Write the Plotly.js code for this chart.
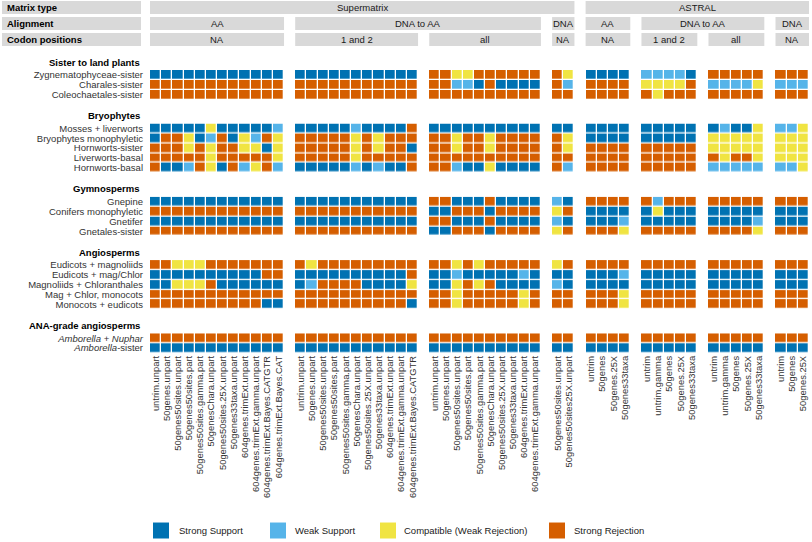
<!DOCTYPE html>
<html><head><meta charset="utf-8">
<script src="https://cdn.plot.ly/plotly-3.0.1.min.js"></script>
<style>html,body{margin:0;padding:0;background:#fff}#chart{width:812px;height:542px}</style>
</head><body><div id="chart"></div>
<script>
// ---- column labels, one array per column group ----
const saAA = ["untrim.unpart","50genes.unpart","50genes50sites.unpart","50genes50sites.part","50genes50sites.gamma.part","50genesChara.unpart","50genes50sites.25X.unpart","50genes33taxa.unpart","604genes.trimExt.unpart","604genes.trimExt.gamma.unpart","604genes.trimExt.Bayes.CATGTR","604genes.trimExt.Bayes.CAT"];
const saDNAtoAA12 = ["untrim.unpart","50genes.unpart","50genes50sites.unpart","50genes50sites.part","50genes50sites.gamma.part","50genesChara.unpart","50genes50sites.25X.unpart","50genes33taxa.unpart","604genes.trimExt.unpart","604genes.trimExt.gamma.unpart","604genes.trimExt.Bayes.CATGTR"];
const saDNAtoAAall = ["untrim.unpart","50genes.unpart","50genes50sites.unpart","50genes50sites.part","50genes50sites.gamma.part","50genesChara.unpart","50genes50sites.25X.unpart","50genes33taxa.unpart","604genes.trimExt.unpart","604genes.trimExt.gamma.unpart"];
const saDNA = ["50genes50sites.unpart","50genes50sites25X.unpart"];
const asAA = ["untrim","50genes","50genes.25X","50genes33taxa"];
const asDNAtoAA12 = ["untrim","untrim.gamma","50genes","50genes.25X","50genes33taxa"];
const asDNAtoAAall = ["untrim","untrim.gamma","50genes","50genes.25X","50genes33taxa"];
const asDNA = ["untrim","50genes","50genes.25X"];

// ---- strip labels per column group ----
const matrixTypes = ["Supermatrix","Supermatrix","Supermatrix","Supermatrix","ASTRAL","ASTRAL","ASTRAL","ASTRAL"];
const alignments = ["AA","DNA to AA","DNA to AA","DNA","AA","DNA to AA","DNA to AA","DNA"];
const codonPositions = ["NA","1 and 2","all","NA","NA","1 and 2","all","NA"];
const stripTitles = ["Matrix type","Alignment","Codon positions"];

// ---- row groups ----
const cladeGroups = ["Sister to land plants","Bryophytes","Gymnosperms","Angiosperms","ANA-grade angiosperms"];
// values: S strong support, W weak support, C compatible (weak rejection), R strong rejection
// chunks separated by spaces = column groups (12 11 10 2 4 5 5 3)
const sisterRows = ["Zygnematophyceae-sister","Charales-sister","Coleochaetales-sister"];
const sisterVals = [
 "SSSSSSSSSSSS SSSSSSSSSSS RRCCRRRRRR RC SSSS WWWWS RRRRR RRR",
 "RRRRRRRRRRRR RRRRRRRRRRR RRWWSRSSSS RW RRRR CCCCR WWWWC WWW",
 "RRRRRRRRRRRR RRRRRRRRRRR RRRRRRRRRR RR RRRR RCRRR RRRRR RRR"];
const bryoRows = ["Mosses + liverworts","Bryophytes monophyletic","Hornworts-sister","Liverworts-basal","Hornworts-basal"];
const bryoVals = [
 "SSSSSCSSSSSW SSSSSWSSSSR SSSSSSSSSS SS SSSS SSSSS SWSSC WWC",
 "SRRCSWRSCWRC RRRRRCRCRRR RRCRRCRRRR RC SSSS SSSSS CCCCC CCC",
 "RRRCRCRRCCSC RRRRRCRCRRS RRCRRCRRRR RC RRRR RRRRR CCCCC CCC",
 "RRRRRCRRRRRC RRRRRCRRRRR RRRRRRRRRR RR RRRR RRRRR RCRRC CCC",
 "RSSWRCSRWCRW SSSSSWSWSSR RRWSSCSSSS RW RRRR RRRRR WWWWW WWC"];
const gymnoRows = ["Gnepine","Conifers monophyletic","Gnetifer","Gnetales-sister"];
const gymnoVals = [
 "SSSSSSSSSSSS SSSSSSSSSSS RRSSSRSSSS WS RRRR RWRRR RRRRR RRR",
 "RRRRRRRRRRRR RRRRRRRRRRR SSRRRSRRRR CR SSSS SCSSS SSSSS SSS",
 "SSSSSSSSSSSS SSSSSSSSSSS RRSSSRSSSS WS SSSW SSSSS SSSSW SSS",
 "RRRRRRRRRRRR RRRRRRRRRRR SSRRRSRRRR CR RRRC RRRRR RRRRC RRR"];
const angioRows = ["Eudicots + magnoliids","Eudicots + mag/Chlor","Magnoliids + Chloranthales","Mag + Chlor, monocots","Monocots + eudicots"];
const angioVals = [
 "RRCCCRRRRRRR RCRRRRRRRRR RRCRCRRRRR CR RRRR RRRRR RRRRR RRR",
 "SSSSSSSSSSRR SSSSSSSSSSR SSWSSSSSWS SS SSSW SSSSS SSSSS SSS",
 "SSCCCRSSSSSS SWRRRRSSSSC SSCRCRSSSS WS SSSS SSSSS SSSSS SSS",
 "RRRRRRRRRRRR RRRRRRRRRRR RRCRRRRRCR RR RRRC RRRRR RRRRR RRR",
 "RRRRRRRRRRSS RRRRRRRRRRS RRCRRRRRCR RR RRRC RRRRR RRRRR RRR"];
const anaRows = ["<i>Amborella</i> + <i>Nuphar</i>","<i>Amborella</i>-sister"];
const anaVals = [
 "RRRRRRRRRRRR RRRRRRRRRRR RRRRRRRRRR RR RRRR RRRRR RRRRR RRR",
 "SSSSSSSSSSSS SSSSSSSSSSS SSSSSSSSSS SS SSSS SSSSS SSSSS SSS"];

const categories = ["Strong Support","Weak Support","Compatible (Weak Rejection)","Strong Rejection"];
const codes = ["S","W","C","R"];
const colors = ["#0072B2","#56B4E9","#F0E442","#D55E00"];

// ---- build ----
const colGroups = [saAA,saDNAtoAA12,saDNAtoAAall,saDNA,asAA,asDNAtoAA12,asDNAtoAAall,asDNA];
const groupStart = [], groupEnd = [], tickvals = [], ticktext = [];
let pos = 0;
colGroups.forEach(g => { groupStart.push(pos); g.forEach(l => { tickvals.push(pos); ticktext.push(l); pos++; }); groupEnd.push(pos-1); pos++; });
const nCols = pos - 1;

const rowSets = [[sisterRows,sisterVals],[bryoRows,bryoVals],[gymnoRows,gymnoVals],[angioRows,angioVals],[anaRows,anaVals]];

const W=812,H=542,mL=150,mR=3,mT=70,plotH=283.3,mB=H-mT-plotH,plotW=W-mL-mR;
const gapPx=24;
const totalRows = rowSets.reduce((a,r)=>a+r[0].length,0);
const pitch=(plotH-gapPx*(rowSets.length-1))/totalRows;
const py2p = py => 1-(py-mT)/plotH;
const px2p = px => (px-mL)/plotW;

const colorscale=[];
colors.forEach((c,i)=>{colorscale.push([i/4,c]);colorscale.push([(i+1)/4,c]);});

const FONT="Liberation Sans, Arial, sans-serif";
const traces=[], annotations=[], shapes=[];
const layout={width:W,height:H,margin:{l:mL,r:mR,t:mT,b:mB},paper_bgcolor:"#fff",plot_bgcolor:"#fff",
  font:{family:FONT,size:9.5,color:"#1a1a1a"},showlegend:false,
  xaxis:{range:[-0.5,nCols-0.5],tickvals,ticktext,tickangle:-90,ticks:"",showgrid:false,zeroline:false,showline:false,
    anchor:"y"+rowSets.length,tickfont:{size:9.4,color:"#333"},fixedrange:true}};

let rowAcc=0;
rowSets.forEach(([rows,vals],k)=>{
  const top = mT + rowAcc*pitch + k*gapPx;
  const bot = top + rows.length*pitch;
  rowAcc += rows.length;
  const yname = k===0?"y":"y"+(k+1);
  const axname = k===0?"yaxis":"yaxis"+(k+1);
  const z = vals.map(s=>{
    const row=new Array(nCols).fill(null);
    s.split(" ").forEach((chunk,g)=>{ for(let j=0;j<chunk.length;j++) row[groupStart[g]+j]=codes.indexOf(chunk[j]); });
    return row;
  });
  traces.push({type:"heatmap",z,x:[...Array(nCols).keys()],y:rows.map((_,i)=>i),xaxis:"x",yaxis:yname,
    colorscale,zmin:-0.5,zmax:3.5,showscale:false,xgap:1.3,ygap:1.3,hoverinfo:"skip"});
  layout[axname]={domain:[py2p(bot),py2p(top)],range:[rows.length-0.5,-0.5],tickvals:rows.map((_,i)=>i),ticktext:rows,
    ticks:"",showgrid:false,zeroline:false,showline:false,ticklabelstandoff:6,tickfont:{size:9.5,color:"#333"},anchor:"x",fixedrange:true};
  annotations.push({xref:"paper",yref:"paper",x:0,xshift:-8,xanchor:"right",y:py2p(top),yshift:8,yanchor:"middle",
    text:"<b>"+cladeGroups[k]+"</b>",showarrow:false,font:{size:9.5,color:"#000"}});
});

// ---- header strips ----
const stripRowsPx=[[1,14],[17,30],[33,46]];
[matrixTypes,alignments,codonPositions].forEach((labels,r)=>{
  const [y0,y1]=stripRowsPx[r];
  shapes.push({type:"rect",xref:"paper",yref:"paper",x0:px2p(2),x1:px2p(141),y0:py2p(y1),y1:py2p(y0),fillcolor:"#D9D9D9",line:{width:0},layer:"below"});
  annotations.push({xref:"paper",yref:"paper",x:px2p(5),xanchor:"left",y:py2p((y0+y1)/2),yanchor:"middle",text:"<b>"+stripTitles[r]+"</b>",showarrow:false,font:{size:9.5,color:"#000"}});
  let g=0;
  while(g<labels.length){
    let e=g;
    while(e+1<labels.length && labels[e+1]===labels[g] && (r===0 || matrixTypes[e+1]===matrixTypes[g])) e++;
    const xa=groupStart[g]-0.5, xb=groupEnd[e]+0.5;
    shapes.push({type:"rect",xref:"x",yref:"paper",x0:xa,x1:xb,y0:py2p(y1),y1:py2p(y0),fillcolor:"#D9D9D9",line:{width:0},layer:"below"});
    annotations.push({xref:"x",yref:"paper",x:(xa+xb)/2,xanchor:"center",y:py2p((y0+y1)/2),yanchor:"middle",text:labels[g],showarrow:false,font:{size:9.5,color:"#1a1a1a"}});
    g=e+1;
  }
});

// ---- legend keys ----
const legSq=[153,270,380,549], legTx=[177,293,402,572], legY=531, sq=16;
categories.forEach((c,i)=>{
  shapes.push({type:"rect",xref:"paper",yref:"paper",x0:px2p(legSq[i]),x1:px2p(legSq[i]+sq),y0:py2p(legY+sq/2),y1:py2p(legY-sq/2),fillcolor:colors[i],line:{width:0}});
  annotations.push({xref:"paper",yref:"paper",x:px2p(legTx[i]),xanchor:"left",y:py2p(legY),yanchor:"middle",text:c,showarrow:false,font:{size:9.5,color:"#1a1a1a"}});
});

layout.annotations=annotations; layout.shapes=shapes;
Plotly.newPlot("chart",traces,layout,{displayModeBar:false,staticPlot:true});
</script></body></html>
